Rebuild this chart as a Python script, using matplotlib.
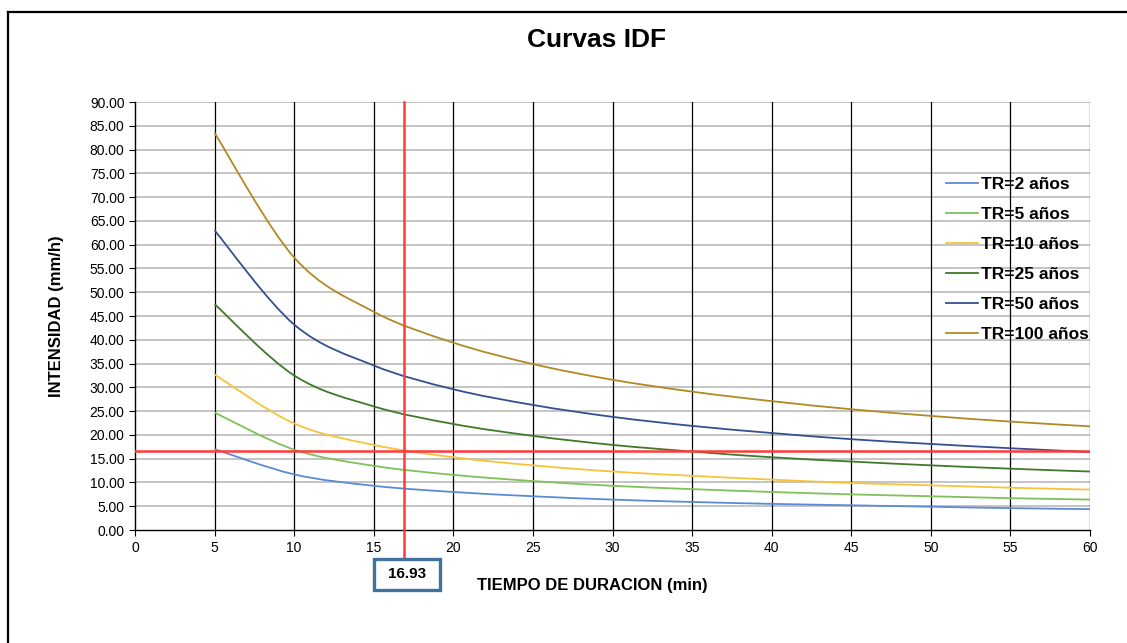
import matplotlib
matplotlib.use("Agg")
import matplotlib.pyplot as plt
from matplotlib.lines import Line2D
from matplotlib.path import Path
from matplotlib.patches import PathPatch, Rectangle

plt.rcParams['font.family'] = ['Liberation Sans', 'DejaVu Sans']

durations = [5, 10, 15, 20, 25, 30, 35, 40, 45, 50, 55, 60]
tr2 = [17.0, 11.7, 9.3, 8.0, 7.1, 6.4, 5.9, 5.5, 5.2, 4.9, 4.6, 4.4]
tr5 = [24.7, 16.9, 13.5, 11.6, 10.3, 9.3, 8.6, 8.0, 7.5, 7.1, 6.7, 6.4]
tr10 = [32.7, 22.4, 17.9, 15.3, 13.6, 12.3, 11.4, 10.6, 9.9, 9.4, 8.9, 8.5]
tr25 = [47.5, 32.5, 26.0, 22.3, 19.8, 17.9, 16.5, 15.3, 14.4, 13.6, 12.9, 12.3]
tr50 = [63.0, 43.2, 34.6, 29.6, 26.3, 23.8, 21.9, 20.4, 19.1, 18.1, 17.2, 16.4]
tr100 = [83.5, 57.3, 45.9, 39.4, 34.9, 31.6, 29.1, 27.1, 25.4, 24.0, 22.8, 21.8]
labels = ['TR=2 años', 'TR=5 años', 'TR=10 años', 'TR=25 años', 'TR=50 años', 'TR=100 años']
design_time = 16.93
design_intensity = 16.6

colors = ['#5b8bd6', '#7fc15a', '#f7c33a', '#3f7a2a', '#34508f', '#b08a22']


def smooth_path(xs, ys):
    """Excel-like smoothed line: cubic Bezier segments through the data points."""
    pts = list(zip(xs, ys))
    n = len(pts)
    verts = [pts[0]]
    codes = [Path.MOVETO]
    for i in range(n - 1):
        p0 = pts[i - 1] if i > 0 else pts[i]
        p1 = pts[i]
        p2 = pts[i + 1]
        p3 = pts[i + 2] if i + 2 < n else pts[i + 1]
        c1 = (p1[0] + (p2[0] - p0[0]) / 6, p1[1] + (p2[1] - p0[1]) / 6)
        c2 = (p2[0] - (p3[0] - p1[0]) / 6, p2[1] - (p3[1] - p1[1]) / 6)
        verts += [c1, c2, p2]
        codes += [Path.CURVE4] * 3
    return Path(verts, codes)


fig = plt.figure(figsize=(11.27, 6.43), dpi=100)
ax = fig.add_axes([0.1198, 0.1757, 0.8474, 0.6656])

ax.set_xlim(0, 60)
ax.set_ylim(0, 90)
ax.set_xticks(range(0, 61, 5))
ax.set_yticks(range(0, 91, 5))
ax.set_yticklabels([f"{v:.2f}" for v in range(0, 91, 5)])

for y in range(5, 91, 5):
    ax.axhline(y, color='#bfbfbf', lw=1.3, zorder=1)
for x in range(5, 61, 5):
    ax.axvline(x, color='#000000', lw=0.9, zorder=1)

series = [tr2, tr5, tr10, tr25, tr50, tr100]
handles = []
for s, c, lab in zip(series, colors, labels):
    ax.add_patch(PathPatch(smooth_path(durations, s), fill=False, ec=c, lw=1.3, zorder=3))
    handles.append(Line2D([], [], color=c, lw=1.3, label=lab))

ax.axhline(design_intensity, color='#ff3b3b', lw=1.8, zorder=4)
ax.axvline(design_time, color='#ff3b3b', lw=1.8, ymin=-0.07, ymax=1.0, clip_on=False, zorder=4)

for sp in ['top', 'right']:
    ax.spines[sp].set_visible(False)
ax.spines['left'].set_color('#000000')
ax.spines['bottom'].set_color('#000000')
ax.spines['left'].set_linewidth(1.0)
ax.spines['bottom'].set_linewidth(1.0)

ax.tick_params(axis='both', direction='out', length=4, width=0.8, labelsize=10, colors='#000000')
ax.tick_params(axis='x', pad=4)

ax.set_ylabel('INTENSIDAD (mm/h)', fontsize=12, fontweight='bold')
ax.yaxis.set_label_coords(-0.082, 0.5)
ax.set_xlabel('TIEMPO DE DURACION (min)', fontsize=12, fontweight='bold')
ax.xaxis.set_label_coords((592 - 135) / 955, -(585 - 530) / 428)
ax.xaxis.label.set_va('center')
ax.yaxis.label.set_va('center')

fig.text(597 / 1127, 1 - 40 / 643, 'Curvas IDF', ha='center', va='center', fontsize=19, fontweight='bold')

leg = ax.legend(handles=handles, loc='upper left', bbox_to_anchor=(0.849, 0.826), frameon=False,
                handlelength=1.85, handletextpad=0.15, labelspacing=0.86,
                borderaxespad=0, borderpad=0, prop={'weight': 'bold', 'size': 12.5})

# value box
fig.add_artist(Rectangle((374 / 1127, 1 - 590 / 643), 66 / 1127, 31 / 643, transform=fig.transFigure,
                         fc='white', ec='#41719c', lw=2.4, zorder=10))
fig.text(407 / 1127, 1 - 574 / 643, f"{design_time:.2f}", ha='center', va='center',
         fontsize=11, fontweight='bold', zorder=11)

# figure border (top and left)
fig.add_artist(Line2D([8 / 1127, 1.0], [1 - 12 / 643, 1 - 12 / 643], color='black', lw=1.6, transform=fig.transFigure))
fig.add_artist(Line2D([8 / 1127, 8 / 1127], [1 - 12 / 643, 0.0], color='black', lw=1.6, transform=fig.transFigure))

fig.savefig('out.png', dpi=100)
